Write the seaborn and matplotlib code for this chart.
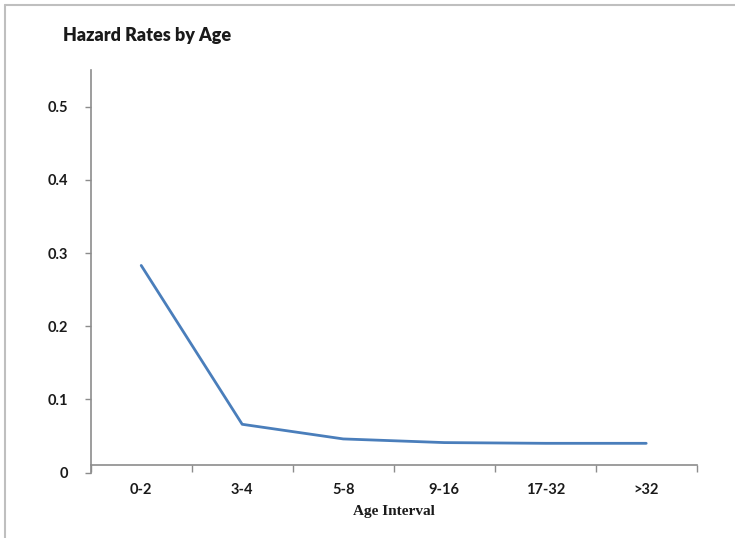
import matplotlib
matplotlib.use("Agg")
import matplotlib.pyplot as plt
from matplotlib.lines import Line2D
import seaborn as sns
import pandas as pd

# Age intervals and hazard rates
age_intervals = ["0-2", "3-4", "5-8", "9-16", "17-32", ">32"]
hazard_rates = [0.283, 0.066, 0.046, 0.041, 0.040, 0.040]
y_ticks = [0, 0.1, 0.2, 0.3, 0.4, 0.5]
y_tick_labels = ["0", "0.1", "0.2", "0.3", "0.4", "0.5"]

sns.set_theme(style="white")
plt.rcParams["font.family"] = ["Lato", "DejaVu Sans"]
plt.rcParams["font.weight"] = "bold"

df = pd.DataFrame({"Age Interval": age_intervals, "Hazard Rate": hazard_rates})

fig = plt.figure(figsize=(7.35, 5.38), dpi=100)
ax = fig.add_axes([90.7 / 735, 1 - 472.6 / 538, (696.7 - 90.7) / 735, (472.6 - 70) / 538])

sns.lineplot(data=df, x="Age Interval", y="Hazard Rate", sort=False,
             color="#4A7EBB", linewidth=2.0, ax=ax)

axis_grey = "#8C8C8C"
text_dark = "#1a1a1a"
ax.set_xlim(-0.5, len(age_intervals) - 0.5)
ax.set_ylim(0, 0.55)

# Category labels sit between tick marks, Excel style
ax.set_xticks(range(len(age_intervals)))
ax.set_xticklabels(age_intervals, fontweight="bold")
ax.set_xticks([i - 0.5 for i in range(len(age_intervals) + 1)], minor=True)
ax.tick_params(axis="x", which="major", bottom=True, length=0, pad=13,
               labelsize=10.5, labelcolor=text_dark)
ax.tick_params(axis="x", which="minor", bottom=True, length=5, width=1,
               color=axis_grey, direction="out")

ax.set_yticks(y_ticks)
ax.set_yticklabels(y_tick_labels, fontweight="bold")
ax.tick_params(axis="y", which="major", left=True, length=4, width=1,
               color=axis_grey, direction="out", pad=12,
               labelsize=10.5, labelcolor=text_dark)

for side in ["top", "right"]:
    ax.spines[side].set_visible(False)
for side in ["left", "bottom"]:
    ax.spines[side].set_color(axis_grey)
    ax.spines[side].set_linewidth(1.2)
ax.spines["bottom"].set_position(("data", 0.0104))

ax.set_ylabel("")
ax.set_xlabel("Age Interval", family=["Liberation Serif", "DejaVu Serif"],
              fontweight="bold", fontsize=11, color=text_dark, labelpad=6)

fig.text(63 / 735, 1 - 36 / 538, "Hazard Rates by Age", fontsize=13,
         fontweight="heavy", color=text_dark, va="center", ha="left")

# Chart-area frame along the top and left edges
frame_grey = "#BFBFBF"
fig.add_artist(Line2D([5 / 735, 1], [1 - 5 / 538, 1 - 5 / 538],
                      transform=fig.transFigure, color=frame_grey, linewidth=1.5))
fig.add_artist(Line2D([5 / 735, 5 / 735], [0, 1 - 5 / 538],
                      transform=fig.transFigure, color=frame_grey, linewidth=1.5))

fig.savefig("out.png", dpi=100)
